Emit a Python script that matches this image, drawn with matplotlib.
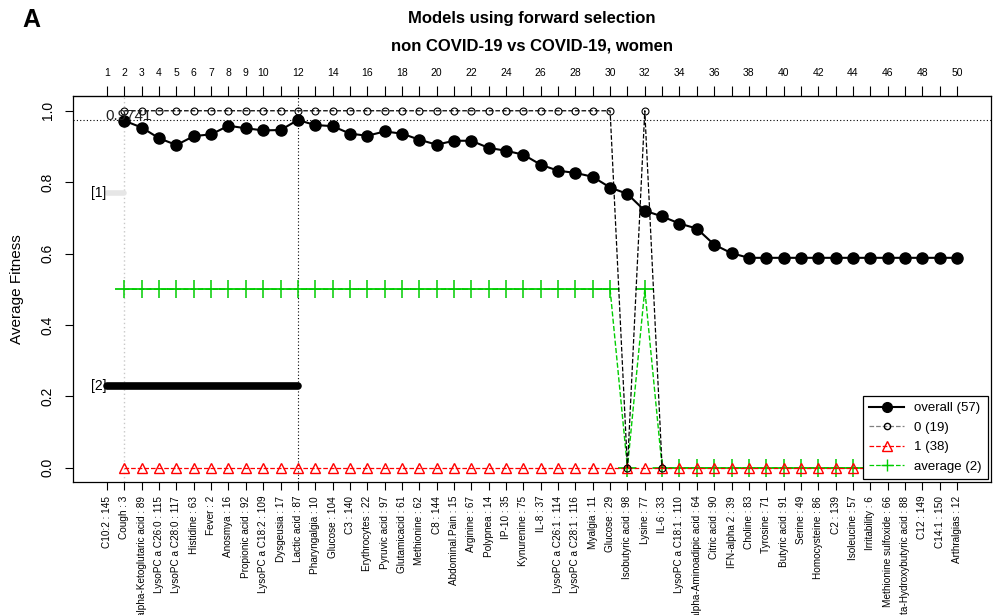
import matplotlib.pyplot as plt
from matplotlib.lines import Line2D

plt.rcParams['font.family'] = ['Liberation Sans', 'DejaVu Sans']

# features in order of forward selection (name : variable index)
features = ['C10:2 : 145', 'Cough : 3', 'alpha-Ketoglutaric acid : 89', 'LysoPC a C26:0 : 115',
            'LysoPC a C28:0 : 117', 'Histidine : 63', 'Fever : 2', 'Anosmya : 16',
            'Propionic acid : 92', 'LysoPC a C18:2 : 109', 'Dysgeusia : 17', 'Lactic acid : 87',
            'Pharyngalgia : 10', 'Glucose : 104', 'C3 : 140', 'Erythrocytes : 22',
            'Pyruvic acid : 97', 'Glutamicacid : 61', 'Methionine : 62', 'C8 : 144',
            'Abdominal.Pain : 15', 'Arginine : 67', 'Polypnea : 14', 'IP-10 : 35',
            'Kynurenine : 75', 'IL-8 : 37', 'LysoPC a C26:1 : 114', 'LysoPC a C28:1 : 116',
            'Myalgia : 11', 'Glucose : 29', 'Isobutyric acid : 98', 'Lysine : 77', 'IL-6 : 33',
            'LysoPC a C18:1 : 110', 'alpha-Aminoadipic acid : 64', 'Citric acid : 90',
            'IFN-alpha 2 : 39', 'Choline : 83', 'Tyrosine : 71', 'Butyric acid : 91',
            'Serine : 49', 'Homocysteine : 86', 'C2 : 139', 'Isoleucine : 57',
            'Irritability : 6', 'Methionine sulfoxide : 66', 'beta-Hydroxybutyric acid : 88',
            'C12 : 149', 'C14:1 : 150', 'Arthralgias : 12']
steps = list(range(1, 51))
top_labels = [1, 2, 3, 4, 5, 6, 7, 8, 9, 10] + list(range(12, 51, 2))

# fitness per model size (sizes 2..50)
fit_x = list(range(2, 51))
overall = [0.972, 0.953, 0.923, 0.904, 0.929, 0.934, 0.958, 0.951, 0.945, 0.946,
           0.9741, 0.960, 0.957, 0.936, 0.930, 0.942, 0.936, 0.919, 0.905, 0.916,
           0.916, 0.896, 0.888, 0.877, 0.849, 0.832, 0.826, 0.815, 0.785, 0.767,
           0.720, 0.704, 0.684, 0.670, 0.625, 0.601, 0.588, 0.588, 0.588, 0.588,
           0.588, 0.588, 0.588, 0.588, 0.588, 0.588, 0.588, 0.588, 0.588]
class0_x = list(range(2, 34))
class0 = [1, 1, 1, 1, 1, 1, 1, 1, 1, 1, 1, 1, 1, 1, 1, 1, 1, 1, 1, 1,
          1, 1, 1, 1, 1, 1, 1, 1, 1, 0, 1, 0]
class1 = [0] * 49
average = [0.5, 0.5, 0.5, 0.5, 0.5, 0.5, 0.5, 0.5, 0.5, 0.5, 0.5, 0.5, 0.5, 0.5, 0.5,
           0.5, 0.5, 0.5, 0.5, 0.5, 0.5, 0.5, 0.5, 0.5, 0.5, 0.5, 0.5, 0.5, 0.5, 0.0,
           0.5, 0.0, 0.0, 0.0, 0.0, 0.0, 0.0, 0.0, 0.0, 0.0, 0.0, 0.0, 0.0, 0.0, 0.0,
           0.0, 0.0, 0.0, 0.0]

best_fit = 0.9741
best_size = 12
first_size = 2
# selection intervals: label, y, start, end
intervals = [('[1]', 0.77, 1, 2), ('[2]', 0.23, 1, 12)]
counts = {'overall': 57, '0': 19, '1': 38, 'average': 2}

GREEN = '#00cd00'

fig = plt.figure(figsize=(9.98, 6.15), dpi=100)
ax = fig.add_axes([0.0732, 0.2163, 0.9198, 0.6268])
ax.set_xlim(-0.96, 51.96)
ax.set_ylim(-0.04, 1.04)

# reference lines
ax.axhline(best_fit, color='black', lw=0.8, ls=(0, (1, 2)), zorder=1)
ax.axvline(first_size, color='#c8c8c8', lw=1.0, ls=(0, (1, 2)), zorder=1)
ax.axvline(best_size, color='black', lw=0.8, ls=(0, (1, 2)), zorder=1)

# intervals
ax.plot([intervals[0][2], intervals[0][3]], [intervals[0][1]] * 2, color='#e6e6e6',
        lw=4, solid_capstyle='round', zorder=2)
ax.plot([intervals[1][2], intervals[1][3]], [intervals[1][1]] * 2, color='black',
        lw=5.5, solid_capstyle='round', zorder=2)
for lab, yy, x0, x1 in intervals:
    ax.text(x0 - 0.05, yy, lab, ha='right', va='center', fontsize=10)

# per-size bar of the average
for xx, yy in zip(fit_x, average):
    ax.plot([xx - 0.5, xx + 0.5], [yy, yy], color=GREEN, lw=1.2, alpha=0.6, zorder=2)

ax.plot(fit_x, average, color=GREEN, ls='--', lw=1, marker='+', ms=13, mew=1.1, zorder=3)
ax.plot(fit_x, class1, color='red', ls='--', lw=0.9, marker='^', ms=7, mfc='none',
        mew=1.0, zorder=3)
ax.plot(class0_x, class0, color='black', ls='--', lw=0.9, marker='o', ms=5, mfc='none',
        mew=0.8, zorder=4)
ax.plot(fit_x, overall, color='black', lw=1.5, marker='o', ms=8, zorder=5)

ax.text(first_size + 0.25, best_fit - 0.008, '%.4f' % best_fit, ha='center', va='bottom',
        fontsize=11, color='#222222', zorder=6)

# axes
ax.set_xticks(steps)
ax.set_xticklabels(features, rotation=90, fontsize=7.2, va='top')
ax.tick_params(axis='x', length=6, pad=4, width=0.8)
ax.set_yticks([0, 0.2, 0.4, 0.6, 0.8, 1.0])
ax.set_yticklabels(['0.0', '0.2', '0.4', '0.6', '0.8', '1.0'], rotation=90, va='center',
                   fontsize=10)
ax.tick_params(axis='y', length=6, pad=7, width=0.8)
ax.set_ylabel('Average Fitness', fontsize=11, labelpad=12)
for s in ax.spines.values():
    s.set_linewidth(0.9)

top = ax.secondary_xaxis('top')
top.set_xticks(steps)
top.set_xticklabels([str(s) if s in top_labels else '' for s in steps], fontsize=7.5)
top.tick_params(length=7, pad=6, width=0.8)

handles = [
    Line2D([], [], color='black', lw=1.5, marker='o', ms=7),
    Line2D([], [], color='gray', lw=0.9, ls='--', marker='o', ms=4.5, mfc='none', mec='black'),
    Line2D([], [], color='red', lw=0.9, ls='--', marker='^', ms=6.5, mfc='none'),
    Line2D([], [], color=GREEN, lw=0.9, ls='--', marker='+', ms=9),
]
labels = ['overall (%d)' % counts['overall'], '0 (%d)' % counts['0'],
          '1 (%d)' % counts['1'], 'average (%d)' % counts['average']]
leg = ax.legend(handles, labels, loc='lower right', fontsize=9.5, fancybox=False,
                framealpha=1, edgecolor='black', borderaxespad=0.25, handlelength=2.6,
                labelspacing=0.55, borderpad=0.45)
leg.get_frame().set_linewidth(0.9)
leg.set_zorder(10)

fig.text(0.533, 0.97, 'Models using forward selection', ha='center', va='center',
         fontsize=12, fontweight='bold')
fig.text(0.533, 0.926, 'non COVID-19 vs COVID-19, women', ha='center', va='center',
         fontsize=12, fontweight='bold')
fig.text(0.022, 0.967, 'A', ha='left', va='center', fontsize=18, fontweight='bold')

fig.savefig('out.png', dpi=100)
